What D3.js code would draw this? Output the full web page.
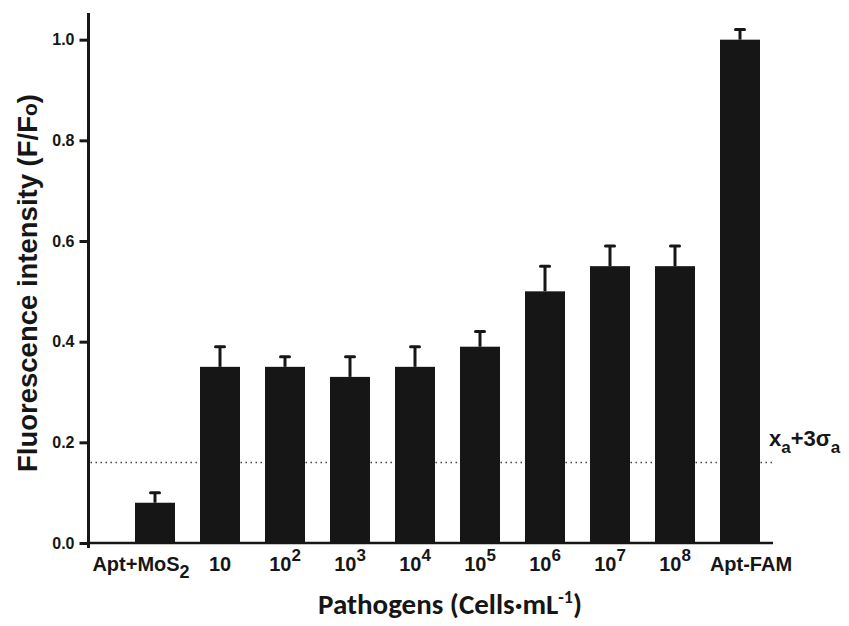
<!DOCTYPE html>
<html>
<head>
<meta charset="utf-8">
<script src="https://cdn.jsdelivr.net/npm/d3@7"></script>
<style>
  body { margin: 0; background: #fff; }
  svg { display: block; }
</style>
</head>
<body>
<div id="chart"></div>
<script>
// labels: base text, superscript, subscript
const categories = ["Apt+MoS", "10", "10", "10", "10", "10", "10", "10", "10", "Apt-FAM"]
const catSup = ["", "", "2", "3", "4", "5", "6", "7", "8", ""]
const catSub = ["2", "", "", "", "", "", "", "", "", ""]
const values = [0.08, 0.35, 0.35, 0.33, 0.35, 0.39, 0.50, 0.55, 0.55, 1.00]
const errors = [0.02, 0.04, 0.02, 0.04, 0.04, 0.03, 0.05, 0.04, 0.04, 0.02]
const yTicks = [0, 0.2, 0.4, 0.6, 0.8, 1.0]
const threshold = 0.16

const width = 849, height = 626
const svg = d3.select("#chart").append("svg")
    .attr("width", width)
    .attr("height", height)

const ids = categories.map((c, i) => i)
const x = d3.scaleBand()
    .domain(ids)
    .range([122.5, 772.5])
    .paddingInner(25 / 65)
    .paddingOuter(12.5 / 65)
const y = d3.scaleLinear()
    .domain([0, 1.05])
    .range([543, 14.5])

const axisLeft = 88.5, axisRight = 773
const ink = "#161616"
const arial = "'Liberation Sans', Arial, sans-serif"

// dotted threshold line (behind bars)
svg.append("line")
    .attr("x1", axisLeft + 2).attr("x2", axisRight)
    .attr("y1", y(threshold)).attr("y2", y(threshold))
    .style("stroke", "#444")
    .style("stroke-width", 1.4)
    .style("stroke-dasharray", "1.5,3.5")

// error bars
const err = svg.append("g")
err.selectAll(".stem")
    .data(ids)
    .enter()
    .append("line")
    .attr("x1", i => x(i) + x.bandwidth() / 2)
    .attr("x2", i => x(i) + x.bandwidth() / 2)
    .attr("y1", i => y(values[i]))
    .attr("y2", i => y(values[i] + errors[i]))
    .style("stroke", ink)
    .style("stroke-width", 3)
err.selectAll(".cap")
    .data(ids)
    .enter()
    .append("line")
    .attr("x1", i => x(i) + x.bandwidth() / 2 - 4.5)
    .attr("x2", i => x(i) + x.bandwidth() / 2 + 4.5)
    .attr("y1", i => y(values[i] + errors[i]))
    .attr("y2", i => y(values[i] + errors[i]))
    .style("stroke", ink)
    .style("stroke-width", 3)
    .style("stroke-linecap", "round")

// bars
svg.append("g")
    .selectAll("rect")
    .data(ids)
    .enter()
    .append("rect")
    .attr("x", i => x(i))
    .attr("width", x.bandwidth())
    .attr("y", i => y(values[i]))
    .attr("height", i => y(0) - y(values[i]))
    .style("fill", ink)

// y axis
const yAxis = svg.append("g")
    .attr("transform", "translate(" + axisLeft + ",0)")
    .call(d3.axisLeft(y).tickValues(yTicks).tickFormat(d3.format(".1f")).tickSize(9).tickSizeOuter(0).tickPadding(5))
yAxis.select(".domain").remove()
yAxis.selectAll(".tick line").style("stroke", ink).style("stroke-width", 3)
yAxis.selectAll(".tick text")
    .style("font-family", arial)
    .style("font-weight", "bold")
    .style("font-size", "16px")
    .style("fill", ink)
svg.append("line")
    .attr("x1", axisLeft).attr("x2", axisLeft)
    .attr("y1", 13).attr("y2", 548)
    .style("stroke", ink)
    .style("stroke-width", 3)

// x axis line
svg.append("line")
    .attr("x1", axisLeft).attr("x2", axisRight)
    .attr("y1", y(0)).attr("y2", y(0))
    .style("stroke", ink)
    .style("stroke-width", 2.5)

// category labels (end labels nudged outward like the original)
const nudge = i => i === 0 ? -14 : (i === ids.length - 1 ? 11 : 0)
const lab = svg.append("g")
    .selectAll("text")
    .data(ids)
    .enter()
    .append("text")
    .attr("x", i => x(i) + x.bandwidth() / 2 + nudge(i))
    .attr("y", 571)
    .attr("text-anchor", "middle")
    .style("font-family", arial)
    .style("font-weight", "bold")
    .style("font-size", "20px")
    .style("fill", ink)
lab.append("tspan").text(i => categories[i])
lab.filter(i => catSup[i]).append("tspan")
    .attr("dy", -10)
    .style("font-size", "17px")
    .text(i => catSup[i])
lab.filter(i => catSub[i]).append("tspan")
    .attr("dy", 7)
    .style("font-size", "18px")
    .text(i => catSub[i])

// threshold label
const th = svg.append("text")
    .attr("x", 769)
    .attr("y", y(threshold) - 16)
    .style("font-family", arial)
    .style("font-weight", "bold")
    .style("font-size", "22px")
    .style("fill", ink)
th.append("tspan").text("x")
th.append("tspan").attr("dy", 7).style("font-size", "17px").text("a")
th.append("tspan").attr("dy", -7).text("+3σ")
th.append("tspan").attr("dy", 7).style("font-size", "17px").text("a")

// y title
const yt = svg.append("text")
    .attr("transform", "translate(37,283) rotate(-90)")
    .attr("text-anchor", "middle")
    .style("font-family", arial)
    .style("font-weight", "bold")
    .style("font-size", "27.5px")
    .style("fill", ink)
yt.append("tspan").text("Fluorescence intensity (F/F")
yt.append("tspan").style("font-size", "21px").text("o")
yt.append("tspan").text(")")

// x title
const xt = svg.append("text")
    .attr("x", 450)
    .attr("y", 614)
    .attr("text-anchor", "middle")
    .style("font-family", "Carlito, Calibri, Lato, sans-serif")
    .style("font-weight", "bold")
    .style("font-size", "29px")
    .style("fill", ink)
xt.append("tspan").text("Pathogens (Cells·mL")
xt.append("tspan").attr("dy", -11).style("font-size", "18px").text("-1")
xt.append("tspan").attr("dy", 11).text(")")
</script>
</body>
</html>
